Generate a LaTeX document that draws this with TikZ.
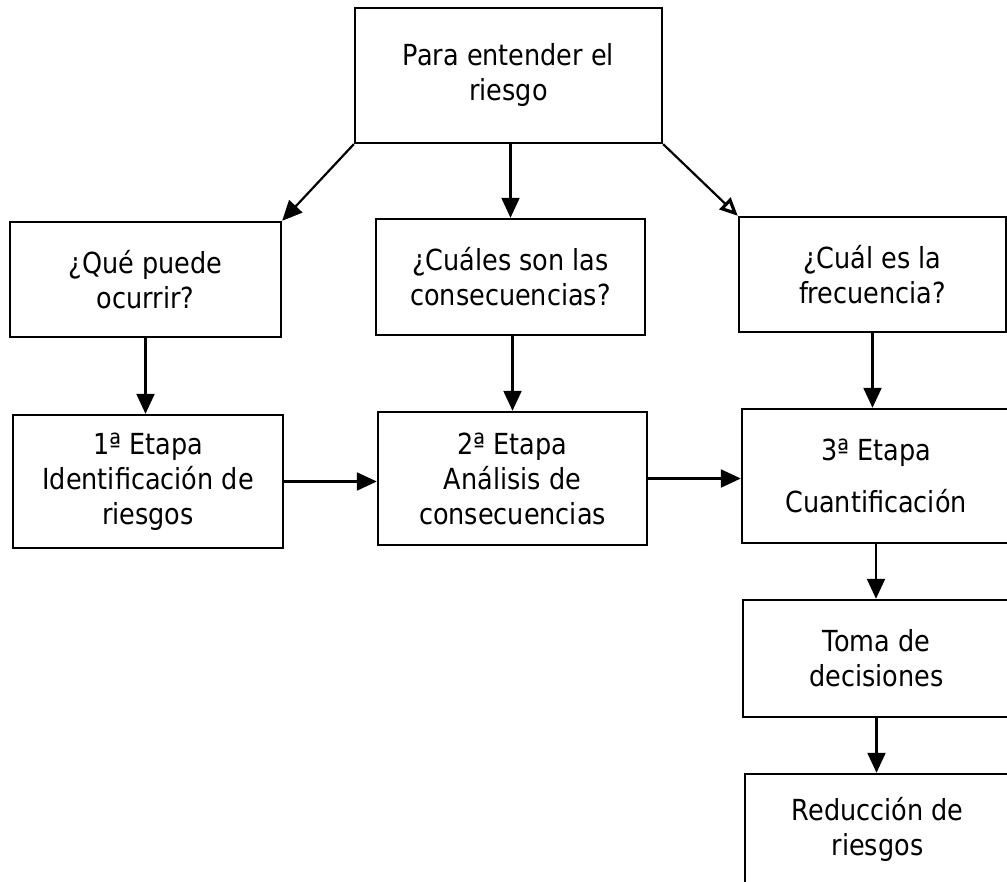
\documentclass[tikz,border=0pt]{standalone}
\usepackage{fontspec}
\setmainfont{DejaVu Sans}[FakeStretch=0.88]
\usetikzlibrary{arrows.meta,calc}
\begin{document}
\begin{tikzpicture}[x=1pt,y=-1pt,
  box/.style={draw,line width=2.4pt,rectangle,inner sep=0pt,align=center,
    font=\fontsize{29}{35}\selectfont},
  arr/.style={line width=2.2pt,-{Triangle[length=20pt,width=18pt]}},
  oarr/.style={line width=2.2pt,-{Triangle[open,length=18pt,width=16pt,line width=3.2pt]}}]
\clip (0,0) rectangle (1007,882);
\fill[white] (0,0) rectangle (1007,882);
\newcommand\mkbox[6]{%
  \node[box,minimum width=#4-#2,minimum height=#5-#3] (#1) at ({(#2+#4)/2},{(#3+#5)/2}) {#6};}
\mkbox{top}{355}{8}{662}{143}{Para entender el\\riesgo}
\mkbox{q1}{10}{222}{281}{337}{¿Qué puede\\ocurrir?}
\mkbox{q2}{376}{219}{645}{335}{¿Cuáles son las\\consecuencias?}
\mkbox{q3}{739}{217}{1006}{332}{¿Cuál es la\\frecuencia?}
\mkbox{e1}{13}{415}{283}{548}{1ª Etapa\\Identificación de\\riesgos}
\mkbox{e2}{378}{412}{647}{545}{2ª Etapa\\Análisis de\\consecuencias}
\mkbox{e3}{742}{409}{1010}{543}{3ª Etapa\\[17pt]Cuantificación}
\mkbox{toma}{743}{600}{1010}{717}{Toma de\\decisiones}
\mkbox{red}{745}{774}{1010}{884}{Reducción de\\riesgos}
\draw[arr] (q2.north |- top.south) -- (q2.north);
\draw[arr] (top.south west) -- (q1.north east);
\draw[oarr] (top.south east) -- (q3.north west);
\draw[arr] (q1.south) -- (q1.south |- e1.north);
\draw[arr] (e2.north |- q2.south) -- (e2.north);
\draw[arr] (q3.south) -- (q3.south |- e3.north);
\draw[arr] (e1.east) -- (e1.east -| e2.west);
\draw[arr] (e2.east) -- (e2.east -| e3.west);
\draw[arr] (e3.south) -- (e3.south |- toma.north);
\draw[arr] (toma.south) -- (toma.south |- red.north);
\end{tikzpicture}
\end{document}
